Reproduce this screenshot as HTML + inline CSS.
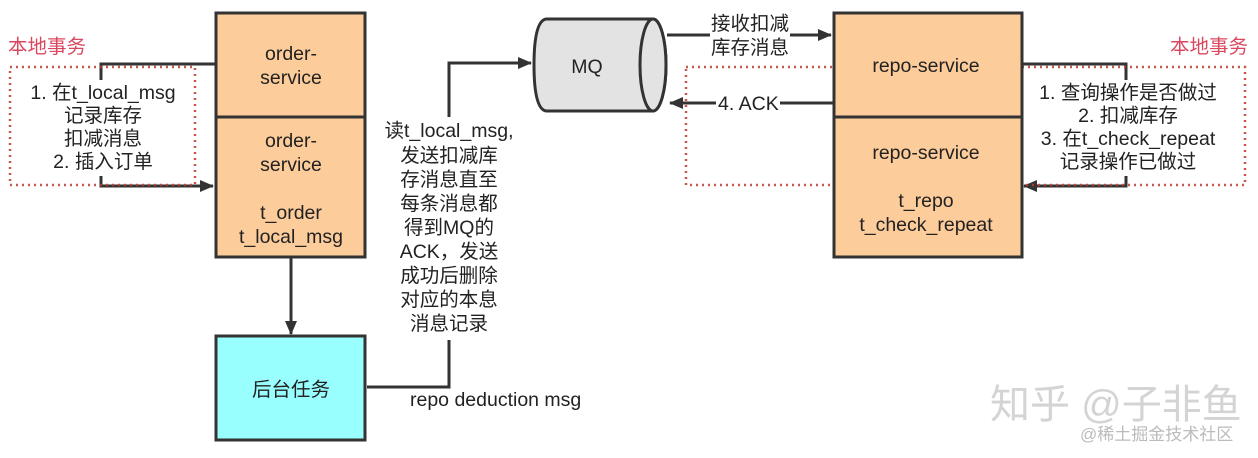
<!DOCTYPE html>
<html><head><meta charset="utf-8"><style>
body{margin:0;background:#fff;}
svg text{font-family:"Liberation Sans","Noto Sans CJK SC",sans-serif;fill:#222;}
</style></head><body>
<svg width="1258" height="453" viewBox="0 0 1258 453" xmlns="http://www.w3.org/2000/svg">
<defs><marker id="b" markerWidth="14" markerHeight="12" refX="13" refY="6" orient="auto" markerUnits="userSpaceOnUse"><path d="M0,0 L14,6 L0,12 z" fill="#333"/></marker></defs>
<g stroke="#333" stroke-width="3" fill="none">
<path d="M215,64 H101 V80"/>
<path d="M101,176 V186 H213" marker-end="url(#b)"/>
<path d="M291,257 V334" marker-end="url(#b)"/>
<path d="M367,387 H449 V340"/>
<path d="M449,117 V63 H531" marker-end="url(#b)"/>
<path d="M667,35 H710"/>
<path d="M790,35 H831" marker-end="url(#b)"/>
<path d="M833,103 H780"/>
<path d="M716,103 H670" marker-end="url(#b)"/>
<path d="M1022,64 H1126 V80"/>
<path d="M1126,176 V186 H1024" marker-end="url(#b)"/>
</g>
<rect x="10" y="67" width="185" height="118" fill="none" stroke="#c0392b" stroke-width="2.5" stroke-dasharray="2,4" opacity=".85"/>
<rect x="686" y="67" width="559" height="118" fill="none" stroke="#c0392b" stroke-width="2.5" stroke-dasharray="2,4" opacity=".85"/>
<g stroke="#333" stroke-width="3">
<rect x="216" y="13" width="149" height="104" fill="#fdcc9b"/>
<rect x="216" y="117" width="149" height="140" fill="#fdcc9b"/>
<rect x="216" y="336" width="149" height="104" fill="#98fefe"/>
<rect x="834" y="13" width="188" height="104" fill="#fdcc9b"/>
<rect x="834" y="117" width="188" height="140" fill="#fdcc9b"/>
<path d="M547,19 H653 A13,46 0 0 1 653,111 H547 Q534,111 534,65 Q534,19 547,19 Z" fill="#e3e3e3"/>
<ellipse cx="653" cy="65" rx="13" ry="46" fill="#e3e3e3"/>
</g>
<g font-size="19.5" text-anchor="middle">
<text x="291" y="60">order-</text><text x="291" y="84">service</text>
<text x="291" y="147">order-</text><text x="291" y="171">service</text>
<text x="291" y="219">t_order</text><text x="291" y="243">t_local_msg</text>
<text x="291" y="396">后台任务</text>
<text x="587" y="73" fill="#333">MQ</text>
<text x="926" y="72">repo-service</text>
<text x="926" y="159">repo-service</text>
<text x="926" y="207">t_repo</text><text x="926" y="231">t_check_repeat</text>
<text x="103" y="99">1. 在t_local_msg</text><text x="103" y="122">记录库存</text><text x="103" y="145">扣减消息</text><text x="103" y="168">2. 插入订单</text>
<text x="449" y="137">读t_local_msg,</text>
<text x="449" y="162">发送扣减库</text><text x="449" y="186">存消息直至</text><text x="449" y="210">每条消息都</text>
<text x="449" y="234">得到MQ的</text><text x="449" y="258">ACK，发送</text><text x="449" y="282">成功后删除</text>
<text x="449" y="306">对应的本息</text><text x="449" y="330">消息记录</text>
<text x="1128" y="99">1. 查询操作是否做过</text><text x="1128" y="122">2. 扣减库存</text><text x="1128" y="145">3. 在t_check_repeat</text><text x="1128" y="168">记录操作已做过</text>
</g>
<g font-size="19.5">
<text x="410" y="406">repo  deduction  msg</text>
<text x="711" y="30">接收扣减</text><text x="711" y="54">库存消息</text>
<text x="718" y="110">4. ACK</text>
<text x="8" y="53" style="fill:#d9485f">本地事务</text>
<text x="1170" y="53" style="fill:#d9485f">本地事务</text>
<text x="990" y="418" font-size="40" style="fill:#d4d4d4">知乎 @子非鱼</text>
<text x="1080" y="440" font-size="17" style="fill:#bbb">@稀土掘金技术社区</text>
</g>
</svg>
</body></html>
